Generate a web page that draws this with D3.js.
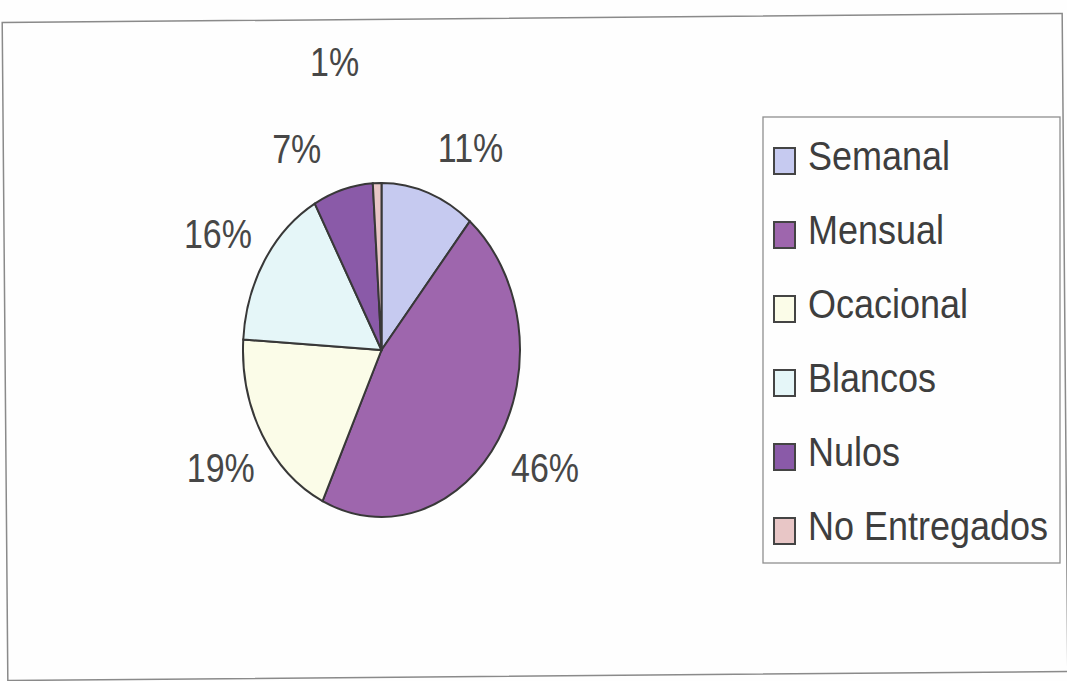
<!DOCTYPE html>
<html>
<head>
<meta charset="utf-8">
<script src="https://cdn.jsdelivr.net/npm/d3@7"></script>
<style>
  html, body { margin: 0; padding: 0; background: #fefefe; }
  svg { display: block; }
  text { font-family: "Liberation Sans", Arial, sans-serif; }
</style>
</head>
<body>
<svg id="chart" width="1067" height="681"></svg>
<script>
// ---- data ----
const categories = ["Semanal", "Mensual", "Ocacional", "Blancos", "Nulos", "No Entregados"];
const values = [11, 46, 19, 16, 7, 1];
const labels = ["11%", "46%", "19%", "16%", "7%", "1%"];
const colors = ["#c6caf0", "#9e66ad", "#fbfce8", "#e5f6f8", "#8a5aa8", "#e8c6c6"];

// ---- layout (not data) ----
const W = 1067, H = 681;
const cx = 381.5, cy = 350, rx = 138.5, ry = 167;
const yScale = ry / rx;
const labelR = 189;
const labelNudge = [[25, 12], [4, -5], [2, 1], [-4, 5], [-32, 17], [-41, -61]];

const svg = d3.select("#chart");

// outer frame (scanned, slightly rotated)
svg.append("rect")
  .attr("x", 5).attr("y", 18).attr("width", 1060).attr("height", 658)
  .attr("fill", "#fefefe").attr("stroke", "#8a8a8a").attr("stroke-width", 1.5)
  .attr("transform", `rotate(-0.49 535 347)`);

const pie = d3.pie().sort(null).value(d => d)(values);
const arc = d3.arc().innerRadius(0).outerRadius(rx);

const pieG = svg.append("g").attr("transform", `translate(${cx},${cy}) scale(1,${yScale})`);
pieG.selectAll("path").data(pie).join("path")
  .attr("d", arc)
  .attr("fill", (d, i) => colors[i])
  .attr("stroke", "#383838")
  .attr("stroke-width", 2)
  .attr("vector-effect", "non-scaling-stroke");

// data labels
pie.forEach((d, i) => {
  const a = (d.startAngle + d.endAngle) / 2;
  const x = cx + labelR * Math.sin(a) + labelNudge[i][0];
  const y = cy - labelR * yScale * Math.cos(a) + labelNudge[i][1];
  svg.append("g").attr("transform", `translate(${x},${y}) scale(1,1.22)`)
    .append("text")
    .attr("text-anchor", "middle")
    .attr("y", 12.2)
    .attr("font-size", 34)
    .attr("fill", "#474747")
    .text(labels[i]);
});

// legend
const legX = 763, legY = 117, legW = 297, legH = 446;
svg.append("rect")
  .attr("x", legX).attr("y", legY).attr("width", legW).attr("height", legH)
  .attr("fill", "#fefefe").attr("stroke", "#8f8f8f").attr("stroke-width", 1.3);

const legItem = d3.scaleBand().domain(categories).range([133, 577]);
categories.forEach((c, i) => {
  const base = legItem(c) + 37;
  svg.append("rect")
    .attr("x", 774).attr("y", base - 22).attr("width", 21).attr("height", 26)
    .attr("fill", colors[i]).attr("stroke", "#444").attr("stroke-width", 2);
  svg.append("g").attr("transform", `translate(808,${base}) scale(1,1.14)`)
    .append("text")
    .attr("font-size", 36)
    .attr("fill", "#3e3e3e")
    .text(c);
});
</script>
</body>
</html>
